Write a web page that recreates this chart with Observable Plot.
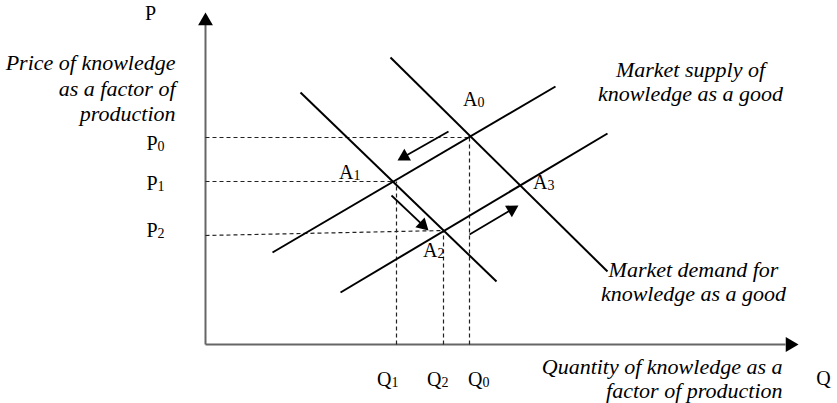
<!DOCTYPE html>
<html><head><meta charset="utf-8">
<script src="https://cdn.jsdelivr.net/npm/d3@7"></script>
<script src="https://cdn.jsdelivr.net/npm/@observablehq/plot@0.6"></script>
<style>html,body{margin:0;padding:0;background:#fff;}</style>
</head><body><div id="chart"></div>
<script>
// Supply / demand curves (quantity q, price p), start and end points
const curveNames  = ["Demand D0", "Demand D1", "Supply S0", "Supply S1"];
const curveStartQ = [18.5, 9.5, 6.7, 13.5];
const curveStartP = [28.7, 25.2, 9.2, 5.2];
const curveEndQ   = [40.2, 29.1, 35.0, 40.2];
const curveEndP   = [7.3, 6.3, 25.8, 21.1];

// Equilibrium points
const eqNames = ["A0", "A1", "A2", "A3"];
const eqQ = [26.4, 18.8, 23.9, 31.4];
const eqP = [20.7, 16.3, 11.4, 15.9];

// Price ticks (dashed guides to equilibria)
const priceTicks = ["P0", "P1", "P2"];
const priceValues = [20.7, 16.3, 10.9];
const priceEq = ["A0", "A1", "A2"];

// Quantity ticks
const qtyTicks = ["Q1", "Q2", "Q0"];
const qtyValues = [19.1, 23.8, 26.4];
const qtyEq = ["A1", "A2", "A0"];

// Shift arrows
const arrowFromQ = [24.3, 18.6, 26.4];
const arrowFromP = [21.3, 14.9, 11.0];
const arrowToQ   = [19.2, 22.3, 31.3];
const arrowToP   = [18.4, 11.4, 13.9];

// Annotation anchors (data units)
const priceLabelQ = -4.8;
const priceLabelP = [20.1, 16.1, 11.4];
const qtyLabelQ = [18.6, 23.6, 27.7];
const qtyLabelP = -3.5;
const eqLabelQ = [27.2, 14.8, 23.2, 34.2];
const eqLabelP = [24.5, 17.2, 9.4, 16.2];

const noteTexts = [
  "Price of knowledge\nas a factor of\nproduction",
  "Market supply of\nknowledge as a good",
  "Market demand for\nknowledge as a good",
  "Quantity of knowledge as a\nfactor of production"
];
const noteQ = [-3.0, 48.5, 48.8, 57.7];
const noteP = [25.7, 26.3, 6.35, -3.35];
const noteAnchor = ["end", "middle", "middle", "end"];
const noteLineHeight = [1.15, 1.1, 1.1, 1.13];

const axisNames = ["P", "Q"];
const axisNameQ = [-5.5, 61.8];
const axisNameP = [33.1, -3.4];

// ---- build tables ----
const eqIdx = Object.fromEntries(eqNames.map((n, i) => [n, i]));
const curves = curveNames.map((name, i) => ({name, q1: curveStartQ[i], p1: curveStartP[i], q2: curveEndQ[i], p2: curveEndP[i]}));
const hGuides = priceTicks.map((t, i) => ({q1: 0, p1: priceValues[i], q2: eqQ[eqIdx[priceEq[i]]], p2: eqP[eqIdx[priceEq[i]]]}));
const vGuides = qtyTicks.map((t, i) => ({q: qtyValues[i], p1: 0, p2: eqP[eqIdx[qtyEq[i]]]}));

const HEAD = 0.78; // centroid distance from tip (data units)
const arrows = arrowFromQ.map((q, i) => {
  const dx = arrowToQ[i] - q, dy = arrowToP[i] - arrowFromP[i];
  const len = Math.hypot(dx, dy);
  const ux = dx / len, uy = dy / len;
  return {
    q1: q, p1: arrowFromP[i],
    q2: arrowToQ[i] - ux * 0.6, p2: arrowToP[i] - uy * 0.6,
    hq: arrowToQ[i] - ux * HEAD, hp: arrowToP[i] - uy * HEAD,
    rot: Math.atan2(dx, dy) * 180 / Math.PI
  };
});

const mainLabels = [
  ...priceTicks.map((t, i) => ({letter: t[0], sub: t.slice(1), q: priceLabelQ, p: priceLabelP[i]})),
  ...qtyTicks.map((t, i) => ({letter: t[0], sub: t.slice(1), q: qtyLabelQ[i], p: qtyLabelP})),
  ...eqNames.map((t, i) => ({letter: t[0], sub: t.slice(1), q: eqLabelQ[i], p: eqLabelP[i]}))
];
const notes = noteTexts.map((text, i) => ({text, q: noteQ[i], p: noteP[i], anchor: noteAnchor[i], lh: noteLineHeight[i]}));
const axisLabels = axisNames.map((text, i) => ({text, q: axisNameQ[i], p: axisNameP[i]}));

const serif = "'Liberation Serif', 'Times New Roman', serif";

const chart = Plot.plot({
  width: 837,
  height: 403,
  marginLeft: 205,
  marginRight: 32,
  marginTop: 14,
  marginBottom: 59,
  x: {domain: [0, 60], axis: null},
  y: {domain: [0, 33], axis: null},
  style: {fontFamily: serif, background: "#fff", color: "#000"},
  marks: [
    // axes
    Plot.link([{q1: 0, p1: 0, q2: 0, p2: 32.0}, {q1: 0, p1: 0, q2: 58.0, p2: 0}],
      {x1: "q1", y1: "p1", x2: "q2", y2: "p2", stroke: "#666", strokeWidth: 2}),
    Plot.dot([{q: 0, p: 32.35, r: 0}, {q: 58.45, p: 0, r: 90}],
      {x: "q", y: "p", rotate: "r", symbol: "triangle", r: 5.5, fill: "#000", stroke: "none"}),
    // dashed guides
    Plot.link(hGuides, {x1: "q1", y1: "p1", x2: "q2", y2: "p2", stroke: "#222", strokeWidth: 1.2, strokeDasharray: "4,3"}),
    Plot.link(vGuides, {x1: "q", y1: "p1", x2: "q", y2: "p2", stroke: "#222", strokeWidth: 1.2, strokeDasharray: "4,3"}),
    // curves
    Plot.link(curves, {x1: "q1", y1: "p1", x2: "q2", y2: "p2", stroke: "#000", strokeWidth: 2}),
    // shift arrows
    Plot.link(arrows, {x1: "q1", y1: "p1", x2: "q2", y2: "p2", stroke: "#000", strokeWidth: 1.8}),
    Plot.dot(arrows, {x: "hq", y: "hp", rotate: "rot", symbol: "triangle", r: 5, fill: "#000", stroke: "none"}),
    // labels with subscripts
    Plot.text(mainLabels, {x: "q", y: "p", text: "letter", textAnchor: "end", fontSize: 20, fill: "#000"}),
    Plot.text(mainLabels, {x: "q", y: "p", text: "sub", textAnchor: "start", fontSize: 14, dy: 3, fill: "#000"}),
    // axis names
    Plot.text(axisLabels, {x: "q", y: "p", text: "text", fontSize: 20, fill: "#000"}),
    // italic notes
    ...notes.map(n => Plot.text([n], {x: "q", y: "p", text: "text", textAnchor: n.anchor, lineHeight: n.lh, fontSize: 22, fontStyle: "italic", fill: "#000"}))
  ]
});
document.getElementById("chart").appendChild(chart);
</script>
</body></html>
